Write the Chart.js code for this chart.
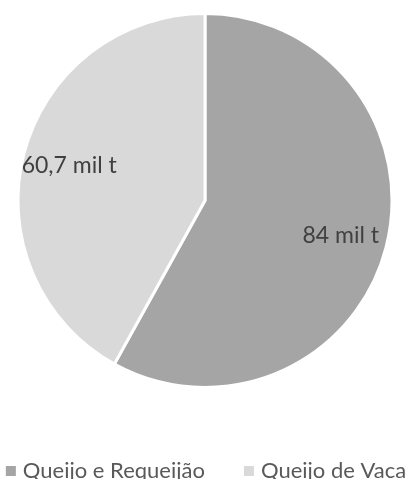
<!DOCTYPE html>
<html>
<head>
<meta charset="utf-8">
<script src="https://cdn.jsdelivr.net/npm/chart.js@4.4.0/dist/chart.umd.min.js"></script>
<style>
  html, body { margin: 0; padding: 0; background: #fff; overflow: hidden; }
  #wrap { position: relative; width: 412px; height: 479px; }
</style>
</head>
<body>
<div id="wrap"><canvas id="pieChart"></canvas></div>
<script>
const categories = ['Queijo e Requeijão', 'Queijo de Vaca'];
const production = [84, 60.7]; // mil toneladas
const sliceColors = ['#a5a5a5', '#d9d9d9'];

const fontFamily = "Lato, 'Open Sans', sans-serif";

// value text inside each slice, e.g. "60,7 mil t"
const sliceLabels = {
    id: 'sliceLabels',
    afterDatasetsDraw(chart) {
        const ctx = chart.ctx;
        const meta = chart.getDatasetMeta(0);
        ctx.save();
        ctx.font = '23px ' + fontFamily;
        ctx.fillStyle = '#404040';
        ctx.textAlign = 'center';
        ctx.textBaseline = 'middle';
        meta.data.forEach((arc, i) => {
            const p = arc.getProps(['x', 'y', 'startAngle', 'endAngle', 'outerRadius'], true);
            const mid = (p.startAngle + p.endAngle) / 2;
            const r = p.outerRadius * 0.75;
            const text = production[i].toLocaleString('pt-BR') + ' mil t';
            ctx.fillText(text, p.x + Math.cos(mid) * r, p.y + Math.sin(mid) * r);
        });
        ctx.restore();
    }
};

// one-row legend along the bottom edge; the built-in one wraps at this width
const bottomLegend = {
    id: 'bottomLegend',
    afterDraw(chart) {
        const ctx = chart.ctx;
        const box = 10, boxGap = 7, itemGap = 39;
        const baseline = chart.height - 1;
        ctx.save();
        ctx.font = '22px ' + fontFamily;
        ctx.textBaseline = 'alphabetic';
        const widths = categories.map(c => ctx.measureText(c).width);
        let total = widths.reduce((a, w) => a + box + boxGap + w, 0) + itemGap * (categories.length - 1);
        let x = (chart.width - total) / 2;
        categories.forEach((c, i) => {
            ctx.fillStyle = sliceColors[i];
            ctx.fillRect(x, baseline - 12, box, box);
            ctx.fillStyle = '#595959';
            ctx.fillText(c, x + box + boxGap, baseline);
            x += box + boxGap + widths[i] + itemGap;
        });
        ctx.restore();
    }
};

new Chart(document.getElementById('pieChart'), {
    type: 'pie',
    data: {
        labels: categories,
        datasets: [{
            data: production,
            backgroundColor: sliceColors,
            borderColor: '#ffffff',
            borderWidth: 3
        }]
    },
    options: {
        responsive: true,
        maintainAspectRatio: false,
        animation: false,
        layout: { padding: { top: 12, bottom: 90, left: 0, right: 2 } },
        plugins: {
            tooltip: { enabled: false },
            legend: { display: false }
        }
    },
    plugins: [sliceLabels, bottomLegend]
});
</script>
</body>
</html>
